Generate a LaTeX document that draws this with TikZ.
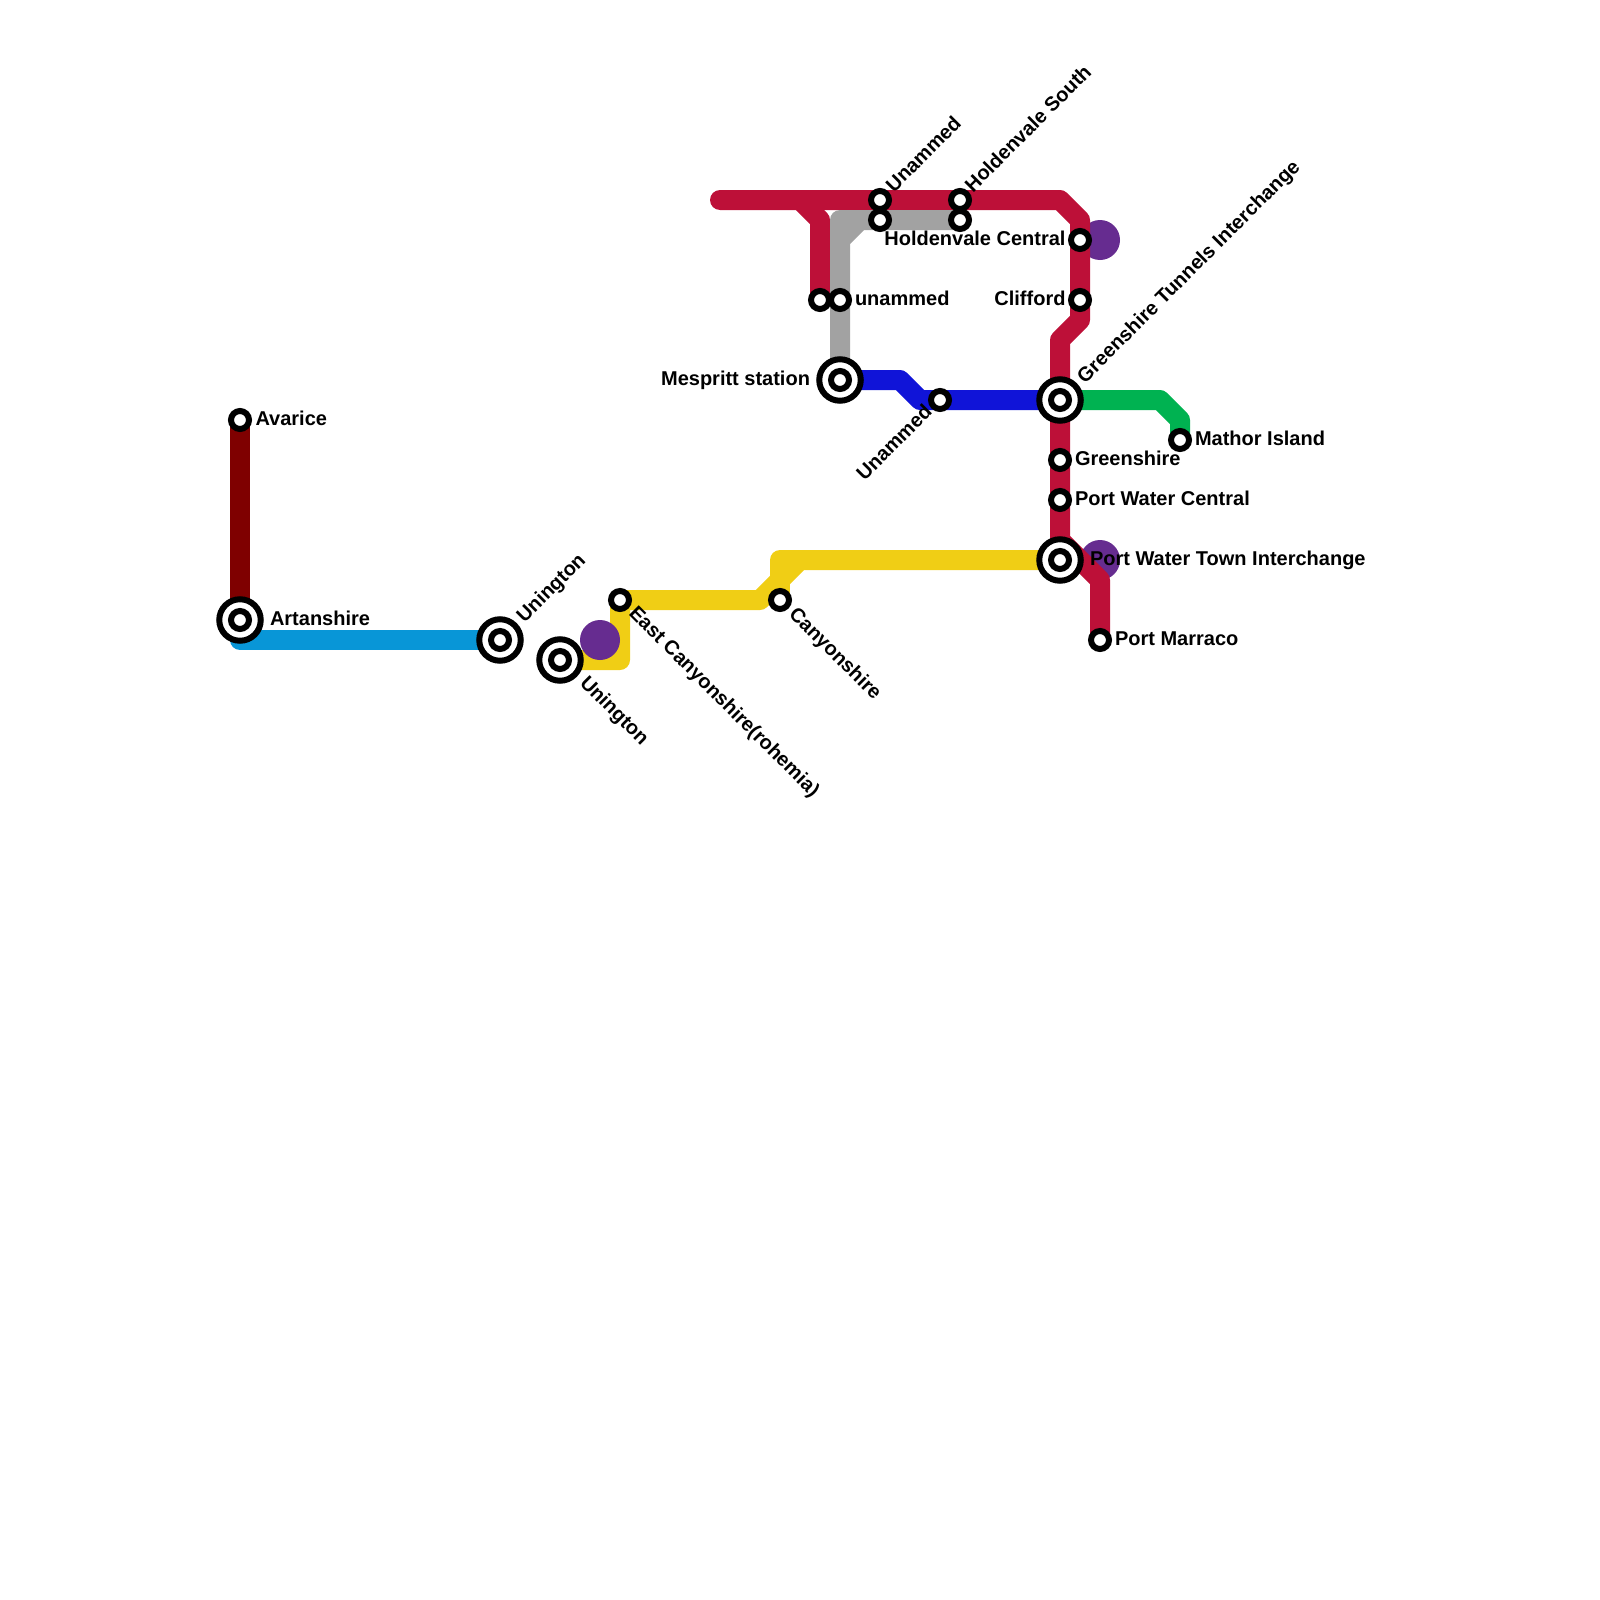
\documentclass[tikz,border=0pt]{standalone}
\usepackage{fontspec}
\setmainfont{Liberation Sans}
\usetikzlibrary{backgrounds}
\definecolor{cRed}{HTML}{BD1038}
\definecolor{cGray}{HTML}{A2A2A2}
\definecolor{cBlue}{HTML}{1014D8}
\definecolor{cGreen}{HTML}{00B251}
\definecolor{cYellow}{HTML}{F0CE15}
\definecolor{cCyan}{HTML}{0896D7}
\definecolor{cMaroon}{HTML}{7F0000}
\definecolor{cPurple}{HTML}{662C90}
\tikzset{
  x=1pt,y=-1pt,
  line/.style={line width=20pt,line cap=round,line join=round},
  stn/.style={circle,draw=black,fill=white,line width=6pt,minimum size=18pt,inner sep=0pt,outer sep=0pt},
  ring/.style={circle,draw=black,fill=white,line width=6pt,minimum size=41.5pt,inner sep=0pt,outer sep=0pt},
  blob/.style={circle,fill=cPurple,minimum size=40pt,inner sep=0pt,outer sep=0pt},
  lab/.style={font=\fontsize{20}{20}\selectfont\bfseries,inner sep=0pt,outer sep=0pt,anchor=base west},
  labr/.style={lab,anchor=base east},
}
\newcommand{\bigstn}[3]{\node[ring] (#1ring) at (#2,#3) {}; \node[stn] (#1) at (#2,#3) {};}
\begin{document}
\begin{tikzpicture}
\useasboundingbox (0,0) rectangle (1600,1600);
% stations
\node[stn] (avarice) at (240,420) {};
\bigstn{artanshire}{240}{620}
\bigstn{uningtonA}{500}{640}
\bigstn{uningtonB}{560}{660}
\node[stn] (eastcany) at (620,600) {};
\node[stn] (cany) at (780,600) {};
\node[stn] (unammedA) at (880,200) {};
\node[stn] (unammedB) at (880,220) {};
\node[stn] (holdS) at (960,200) {};
\node[stn] (holdS2) at (960,220) {};
\node[stn] (redend) at (820,300) {};
\node[stn] (unammedC) at (840,300) {};
\bigstn{mespritt}{840}{380}
\node[stn] (unammedD) at (940,400) {};
\bigstn{greentun}{1060}{400}
\node[stn] (holdC) at (1080,240) {};
\node[stn] (clifford) at (1080,300) {};
\node[stn] (mathor) at (1180,440) {};
\node[stn] (greenshire) at (1060,460) {};
\node[stn] (pwc) at (1060,500) {};
\bigstn{pwt}{1060}{560}
\node[stn] (marraco) at (1100,640) {};
\coordinate (redstart) at (720,200);
% lines
\begin{scope}[on background layer]
\node[blob] (blobA) at (1100,240) {};
\node[blob] (blobB) at (1100,560) {};
\draw[line,cMaroon] (avarice.center) -- (artanshire.center);
\draw[line,cCyan] (artanshire.center) -- (240,640) -- (uningtonA.center);
\draw[line,cYellow] (uningtonB.center) -- (620,660) -- (eastcany.center) -- (760,600) -- (800,560) -- (pwt.center);
\draw[line,cYellow] (cany.center) -- (780,560) -- (800,560);
\node[blob] (blobC) at (600,640) {};
\draw[line,cBlue] (mespritt.center) -- (900,380) -- (920,400) -- (greentun.center);
\draw[line,cGreen] (greentun.center) -- (1160,400) -- (1180,420) -- (mathor.center);
\draw[line,cRed] (redstart) -- (1060,200) -- (1080,220) -- (1080,320) -- (1060,340) -- (1060,540) -- (1100,580) -- (marraco.center);
\draw[line,cRed] (800,200) -- (820,220) -- (redend.center);
\draw[line,cGray] (holdS2.center) -- (860,220) -- (840,240) -- (mespritt.center);
\draw[line,cGray] (860,220) -- (840,220) -- (840,240);
\end{scope}
% labels
\node[lab] (lAvarice) at (255.5,425) {Avarice};
\node[lab] (lArtan) at (270,625) {Artanshire};
\node[lab,rotate=45] (lUnA) at (524.5,623.5) {Unington};
\node[lab,rotate=-45] (lUnB) at (579,684) {Unington};
\node[lab,rotate=-45] (lEast) at (628,614) {East Canyonshire(rohemia)};
\node[lab,rotate=-45] (lCany) at (788,615) {Canyonshire};
\node[lab,rotate=45] (lUnamA) at (894,193) {Unammed};
\node[lab,rotate=45] (lHold) at (973,193) {Holdenvale South};
\node[labr] (lHoldC) at (1065.5,245) {Holdenvale Central};
\node[lab] (lUnamC) at (855,305) {unammed};
\node[labr] (lMes) at (810,385) {Mespritt station};
\node[labr,rotate=45] (lUnamD) at (933,413) {Unammed};
\node[labr] (lCliff) at (1065.5,305) {Clifford};
\node[lab,rotate=45] (lGreenT) at (1085,384) {Greenshire Tunnels Interchange};
\node[lab] (lMath) at (1195,445) {Mathor Island};
\node[lab] (lGreen) at (1075,465) {Greenshire};
\node[lab] (lPwc) at (1075,505) {Port Water Central};
\node[lab] (lPwt) at (1090,565) {Port Water Town Interchange};
\node[lab] (lMarr) at (1115,645) {Port Marraco};
\end{tikzpicture}
\end{document}
